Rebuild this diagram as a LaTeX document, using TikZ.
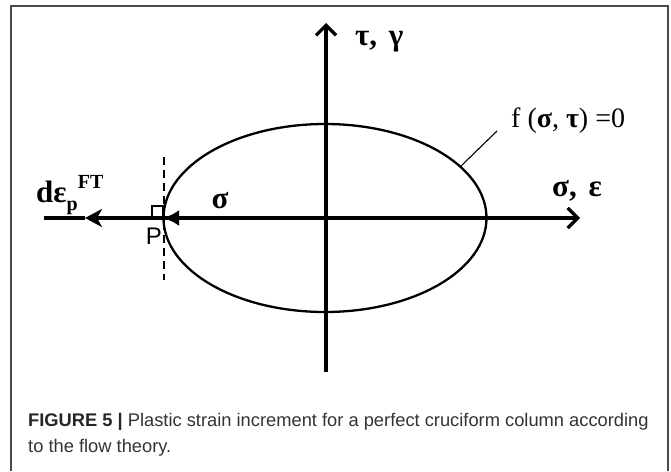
\documentclass[tikz,border=0pt]{standalone}
\usepackage{fontspec}
\setmainfont{Liberation Serif}
\newfontfamily\capfont{Liberation Sans}
\usetikzlibrary{arrows.meta}
\definecolor{framegray}{HTML}{4A4A4A}
\definecolor{captext}{HTML}{333333}
\tikzset{
  axisline/.style={line width=3.3pt, black},
  curveline/.style={line width=2.3pt, black},
  dashline/.style={line width=1.6pt, dash pattern=on 8pt off 5pt},
  thinline/.style={line width=1.1pt},
  barbtip/.style={-{Straight Barb[length=10pt,width=20pt,line width=3.3pt]}},
  lbl/.style={font=\fontsize{31}{34}\selectfont\bfseries, inner sep=0pt},
  caplbl/.style={font=\capfont\fontsize{18.3}{22}\selectfont, text=captext, inner sep=0pt, anchor=west},
}
\begin{document}
\begin{tikzpicture}[x=1pt,y=-1pt]
\useasboundingbox (0,0) rectangle (671,471);
% frame
\draw[framegray, line width=1.4pt] (11,471) -- (11,6) -- (668,6) -- (668,471);
% points
\coordinate (O) at (325,218);
\coordinate (P) at (163,218);
\coordinate (Xend) at (580,218);
\coordinate (Xstart) at (44,218);
\coordinate (Ytop) at (326,23);
\coordinate (Ybot) at (326,372);
\coordinate (Dmid) at (85,218);
\coordinate (Dtop) at (164,157);
\coordinate (Dbot) at (164,280);
\coordinate (Lea) at (461,166);
\coordinate (Leb) at (497,131);
% ellipse (yield surface)
\draw[curveline] (O) ellipse [x radius=161.5pt, y radius=94pt];
% axes
\draw[axisline, barbtip] (Ybot) -- (Ytop);
\draw[axisline, barbtip] (P) -- (Xend);
% sigma vector from origin to P
\draw[axisline, -{Latex[length=16pt,width=16pt]}] (O) -- (P);
% plastic strain increment direction
\draw[axisline, -{Stealth[length=17pt,width=18pt,inset=5pt]}] (P) -- (Dmid);
\draw[axisline] (Dmid) -- (Xstart);
% tangent (dashed) line at P
\draw[dashline] (Dtop) -- (Dbot);
% right-angle marker
\draw[thinline] (152,217) -- (152,206) -- (163,206) -- (163,217);
% leader line to surface label
\draw[thinline] (Lea) -- (Leb);
% labels
\node[lbl, anchor=west] (tg) at (355,42) {τ,\hspace{4pt} γ};
\node[lbl, anchor=west] (se) at (552,191) {σ,\hspace{4pt} ε};
\node[lbl] (sg) at (220,201) {σ};
\node[lbl, anchor=west] (de) at (36,195) {dε\raisebox{-0.26em}{\fontsize{20}{22}\selectfont p}\raisebox{0.46em}{\fontsize{20}{22}\selectfont FT}};
\node[font=\fontsize{28}{32}\selectfont, inner sep=0pt, anchor=west] (fs) at (511,121) {f (\textbf{σ}, \textbf{τ}) =0};
\node[font=\capfont\fontsize{24}{28}\selectfont, inner sep=0pt] (pl) at (154,236) {P};
% caption
\node[caplbl] (cap1) at (28,422) {{\bfseries\color{black!85}FIGURE 5 |} Plastic strain increment for a perfect cruciform column according};
\node[caplbl] (cap2) at (28,448) {to the flow theory.};
\end{tikzpicture}
\end{document}
